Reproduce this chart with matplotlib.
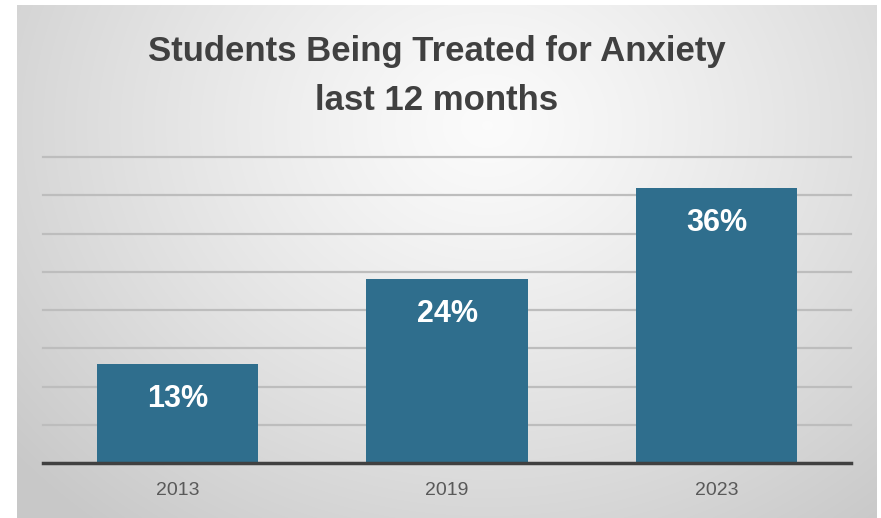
import numpy as np
import matplotlib
matplotlib.use("Agg")
import matplotlib.pyplot as plt
from matplotlib import font_manager

categories = ["2013", "2019", "2023"]
values = [13, 24, 36]
labels = ["13%", "24%", "36%"]
title_lines = ["Students Being Treated for Anxiety", "last 12 months"]

names = {f.name for f in font_manager.fontManager.ttflist}
FAM = "Liberation Sans Narrow" if "Liberation Sans Narrow" in names else "Liberation Sans"

W, H = 881, 518
fig = plt.figure(figsize=(W / 100, H / 100), dpi=100)
fig.patch.set_facecolor("white")

# background panel with radial gradient
bg = fig.add_axes([17 / W, 0, (877 - 17) / W, (518 - 5) / H])
bg.set_axis_off()
yy, xx = np.mgrid[0:513, 0:860]
cx, cy = 470, 120
d = np.sqrt(((xx - cx) / 620.0) ** 2 + ((yy - cy) / 520.0) ** 2)
d = np.clip(d, 0, 1)
v = 0.985 - 0.20 * d ** 1.2
img = np.dstack([v, v, v])
bg.imshow(img, aspect="auto", extent=[0, 1, 0, 1], interpolation="bilinear")
bg.set_xlim(0, 1)
bg.set_ylim(0, 1)

ax = fig.add_axes([43 / W, (518 - 463) / H, 808 / W, 306 / H])
ax.patch.set_alpha(0)
x = np.arange(len(categories))
bars = ax.bar(x, values, width=0.6, color="#2F6E8D", zorder=3)
ax.set_xlim(-0.5, 2.5)
ax.set_ylim(0, 40)
ax.set_yticks(np.arange(5, 41, 5))
ax.yaxis.grid(True, color="#bdbdbd", linewidth=1.6, zorder=0)
for gl in ax.get_ygridlines():
    gl.set_clip_on(False)
ax.tick_params(axis="y", length=0, labelleft=False)
ax.tick_params(axis="x", length=0, pad=14)
ax.set_xticks(x)
ax.set_xticklabels(categories, fontsize=14, color="#595959", family=FAM)
for s in ["top", "right", "left"]:
    ax.spines[s].set_visible(False)
ax.spines["bottom"].set_color("#404040")
ax.spines["bottom"].set_linewidth(2.5)
ax.spines["bottom"].set_zorder(4)

for xi, val, lab in zip(x, values, labels):
    ax.annotate(lab, (xi, val), xytext=(0, -35), textcoords="offset pixels",
                ha="center", va="center", color="white", fontsize=22,
                fontweight="bold", family=FAM, zorder=5)

fig.text(437 / W, 1 - 52 / H, title_lines[0], ha="center", va="center",
         fontsize=25, fontweight="bold", color="#404040", family=FAM)
fig.text(437 / W, 1 - 101 / H, title_lines[1], ha="center", va="center",
         fontsize=25, fontweight="bold", color="#404040", family=FAM)

fig.savefig("out.png", dpi=100)
